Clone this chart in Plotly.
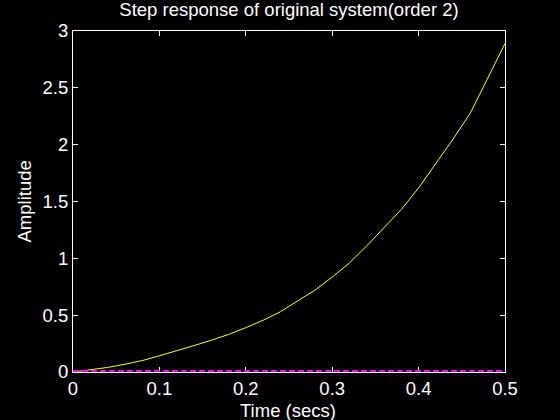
import plotly.graph_objects as go

time = [0, 0.02, 0.04, 0.06, 0.08, 0.1, 0.12, 0.14, 0.16, 0.18, 0.2, 0.22, 0.24,
        0.26, 0.28, 0.3, 0.32, 0.34, 0.36, 0.38, 0.4, 0.42, 0.44, 0.46, 0.48, 0.5]
original = [0, 0.018, 0.04, 0.068, 0.10, 0.143, 0.185, 0.232, 0.28, 0.33, 0.39, 0.455,
            0.53, 0.625, 0.72, 0.835, 0.96, 1.11, 1.27, 1.43, 1.62, 1.83, 2.05, 2.28,
            2.58, 2.89]
reduced_time = [0, 0.5]
reduced = [0, 0]
x_ticks = [0, 0.1, 0.2, 0.3, 0.4, 0.5]
x_labels = ["0", "0.1", "0.2", "0.3", "0.4", "0.5"]
y_ticks = [0, 0.5, 1, 1.5, 2, 2.5, 3]
y_labels = ["0", "0.5", "1", "1.5", "2", "2.5", "3"]

font = "Liberation Sans, Arial, Helvetica, sans-serif"
fs = 18.5

fig = go.Figure()
fig.add_trace(go.Scatter(x=time, y=original, mode="lines",
                         line=dict(color="#ffff00", width=1), showlegend=False))
fig.add_trace(go.Scatter(x=reduced_time, y=reduced, mode="lines",
                         line=dict(color="#ff00ff", width=4, dash="6px,3px"),
                         showlegend=False))

axis_common = dict(showgrid=False, zeroline=False, showline=True, linecolor="white",
                   linewidth=1, mirror="allticks", ticks="inside", ticklen=5,
                   tickcolor="white", tickwidth=1, automargin=False,
                   tickfont=dict(family=font, size=fs, color="white"),
                   layer="below traces")

fig.update_layout(
    width=560, height=420,
    paper_bgcolor="black", plot_bgcolor="black",
    margin=dict(l=73, r=55, t=31, b=48, autoexpand=False),
    title=dict(text="Step response of original system(order 2)",
               font=dict(family=font, size=fs, color="white"),
               x=289 / 560, xanchor="center",
               y=1 - 10 / 420, yanchor="middle", automargin=False),
    xaxis=dict(range=[0, 0.5], tickvals=x_ticks, ticktext=x_labels, **axis_common),
    yaxis=dict(range=[0, 3], tickvals=y_ticks, ticktext=y_labels, **axis_common),
    annotations=[
        dict(text="Time (secs)", xref="paper", yref="paper", x=0.4977, y=-0.114,
             xanchor="center", yanchor="middle", showarrow=False,
             font=dict(family=font, size=fs, color="white")),
        dict(text="Amplitude", xref="paper", yref="paper", x=-0.1134, y=0.5,
             xanchor="center", yanchor="middle", textangle=-90, showarrow=False,
             font=dict(family=font, size=fs, color="white")),
    ],
)

fig.write_html("out.html", config={"displayModeBar": False},
               post_script="document.body.style.margin='0';document.body.style.background='black';")
